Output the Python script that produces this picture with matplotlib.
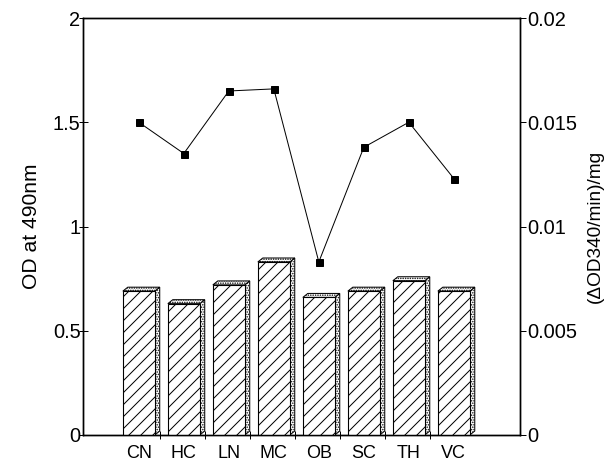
import numpy as np
import matplotlib
matplotlib.use("Agg")
import matplotlib.pyplot as plt
from matplotlib.patches import Polygon

plt.rcParams['font.family'] = ['Liberation Sans', 'DejaVu Sans']
plt.rcParams['hatch.linewidth'] = 1.0

# tissue codes
tissues = ['CN', 'HC', 'LN', 'MC', 'OB', 'SC', 'TH', 'VC']
# OD at 490nm (bars, left axis)
od490 = [0.69, 0.63, 0.72, 0.83, 0.66, 0.69, 0.74, 0.69]
# (dOD340/min)/mg (line, right axis)
activity = [0.0150, 0.0135, 0.0165, 0.0166, 0.0083, 0.0138, 0.0150, 0.0123]

DPI = 72
fig = plt.figure(figsize=(607 / DPI, 464 / DPI), dpi=DPI)
ax = fig.add_axes([83 / 607, 1 - 435 / 464, 437 / 607, 417 / 464])

x = np.arange(len(tissues))
w = 0.71
dx, dy = 0.11, 0.019

# depth faces (dotted) behind the hatched front faces
for xi, h in zip(x, od490):
    x0, x1 = xi - w / 2, xi + w / 2
    side = Polygon([(x1, 0), (x1 + dx, dy), (x1 + dx, h + dy), (x1, h)],
                   closed=True, facecolor='white', edgecolor='black',
                   hatch='.....', lw=1.0, zorder=2)
    top = Polygon([(x0, h), (x0 + dx, h + dy), (x1 + dx, h + dy), (x1, h)],
                  closed=True, facecolor='white', edgecolor='black',
                  hatch='.....', lw=1.0, zorder=2)
    ax.add_patch(side)
    ax.add_patch(top)
ax.bar(x, od490, width=w, facecolor='white', edgecolor='black',
       hatch='//', lw=1.1, zorder=3)

ax.set_xlim(-1.24, 8.47)
ax.set_ylim(0, 2)
ax.set_yticks([0, 0.5, 1, 1.5, 2])
ax.set_yticklabels(['0', '0.5', '1', '1.5', '2'])
ax.set_xticks(x)
ax.set_xticklabels(tissues)
ax.set_xticks(x[:-1] + 0.47, minor=True)
ax.tick_params(axis='x', which='major', length=0, pad=10, labelsize=18)
ax.tick_params(axis='x', which='minor', length=8, width=1, direction='inout')
ax.tick_params(axis='y', length=9, width=1, labelsize=20, pad=-2,
               direction='inout')
ax.set_ylabel('OD at 490nm', fontsize=21, labelpad=12)
for s in ax.spines.values():
    s.set_linewidth(1.4)

ax2 = ax.twinx()
ax2.plot(x, activity, color='black', lw=1.0, marker='s', markersize=7,
         markerfacecolor='black', zorder=5)
ax2.set_ylim(0, 0.02)
ax2.set_yticks([0, 0.005, 0.01, 0.015, 0.02])
ax2.set_yticklabels(['0', '0.005', '0.01', '0.015', '0.02'])
ax2.tick_params(axis='y', length=6, width=1, labelsize=20, pad=1)
ax2.set_ylabel('(\u0394OD340/min)/mg', fontsize=19, labelpad=10)
for s in ax2.spines.values():
    s.set_linewidth(1.4)

fig.savefig('out.png', dpi=DPI)
